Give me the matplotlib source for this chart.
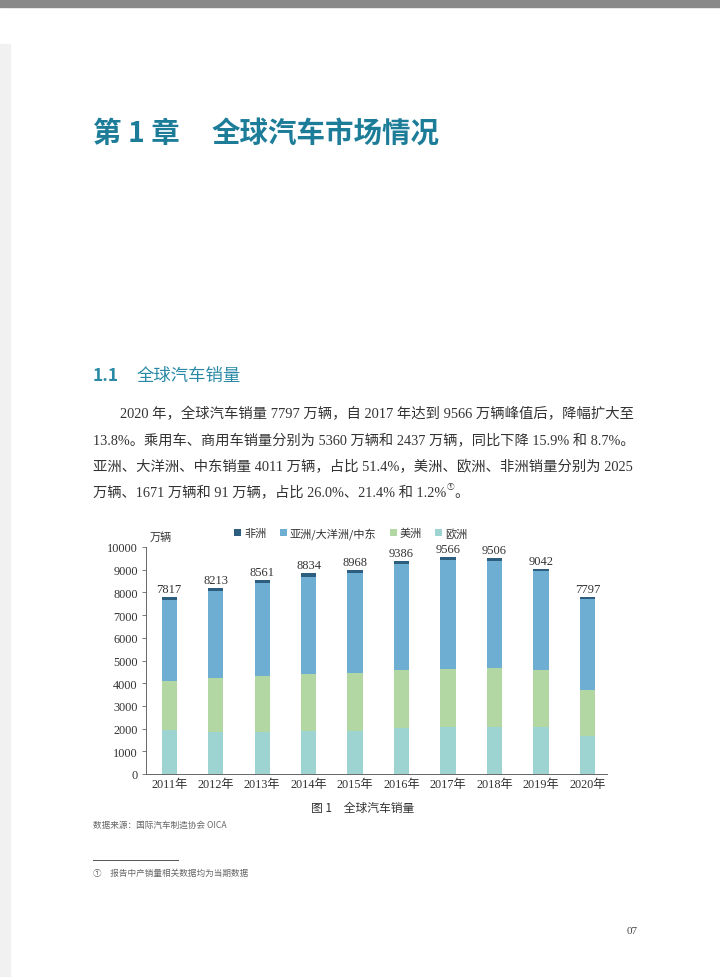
import matplotlib
matplotlib.use('Agg')
import matplotlib.pyplot as plt
import numpy as np

plt.rcParams['font.family'] = ['Noto Sans CJK SC', 'DejaVu Sans']

years = ['2011年', '2012年', '2013年', '2014年', '2015年', '2016年', '2017年', '2018年', '2019年', '2020年']
europe = [1960, 1870, 1830, 1890, 1910, 2010, 2070, 2080, 2080, 1671]
america = [2150, 2340, 2480, 2520, 2550, 2570, 2560, 2570, 2490, 2025]
asia = [3577, 3863, 4101, 4274, 4378, 4686, 4816, 4736, 4362, 4011]
africa = [130, 140, 150, 150, 130, 120, 120, 120, 110, 91]
totals = [7817, 8213, 8561, 8834, 8968, 9386, 9566, 9506, 9042, 7797]

teal = '#1d7d99'
serif = ['Liberation Serif', 'Noto Sans CJK SC']

W, H = 720, 978
fig = plt.figure(figsize=(W / 100, H / 100), dpi=100)
fig.patch.set_facecolor('white')
renderer = fig.canvas.get_renderer()

def fx(px):
    return px / W

def fy(py):
    return 1 - py / H

# page decorations
fig.patches.append(plt.Rectangle((0, fy(8)), 1, 8 / H, transform=fig.transFigure,
                                 color='#898989', zorder=0))
fig.patches.append(plt.Rectangle((0, 0), fx(10), fy(45), transform=fig.transFigure,
                                 color='#f1f1f1', zorder=0))

# headings
fig.text(fx(93), fy(134), '第 1 章', fontsize=20.5, fontweight='bold', color=teal, va='center')
fig.text(fx(212), fy(134), '全球汽车市场情况', fontsize=20.5, fontweight='bold', color=teal, va='center')
fig.text(fx(93), fy(376), '1.1', fontsize=12.5, fontweight='bold', color='#2a8aa6', va='center')
fig.text(fx(137), fy(376), '全球汽车销量', fontsize=12.5, color='#2a8aa6', va='center')

# paragraph, lines 1-3 stretched to the right margin
body = [
    (120, 414, '2020 年，全球汽车销量 7797 万辆，自 2017 年达到 9566 万辆峰值后，降幅扩大至'),
    (93, 441, '13.8%。乘用车、商用车销量分别为 5360 万辆和 2437 万辆，同比下降 15.9% 和 8.7%。'),
    (93, 467, '亚洲、大洋洲、中东销量 4011 万辆，占比 51.4%，美洲、欧洲、非洲销量分别为 2025'),
]
right_edge = 632
sizes = []
for x0, y0, s in body:
    t = fig.text(fx(x0), fy(y0), s, fontsize=10, color='#333333', va='center', family=serif)
    wpx = t.get_window_extent(renderer).width
    fs = 10 * (right_edge - x0) / wpx
    t.set_fontsize(fs)
    sizes.append(fs)
fs4 = sum(sizes) / len(sizes)
t4 = fig.text(fx(93), fy(493), '万辆、1671 万辆和 91 万辆，占比 26.0%、21.4% 和 1.2%',
              fontsize=fs4, color='#333333', va='center', family=serif)
end4 = 93 + t4.get_window_extent(renderer).width
fig.text(fx(end4 + 1), fy(487), '①', fontsize=5.5, color='#333333', va='center')
fig.text(fx(end4 + 8), fy(493), '。', fontsize=fs4, color='#333333', va='center')

# chart
ax = fig.add_axes([fx(146), fy(775), fx(607) - fx(146), fy(548) - fy(775)])
x = np.arange(len(years))
w = 0.33
c_eu, c_am, c_as, c_af = '#9dd4d1', '#b2d7a2', '#6eaed3', '#2d5d7f'
b_eu = ax.bar(x, europe, w, color=c_eu, label='欧洲')
bottom = np.array(europe)
b_am = ax.bar(x, america, w, bottom=bottom, color=c_am, label='美洲')
bottom = bottom + np.array(america)
b_as = ax.bar(x, asia, w, bottom=bottom, color=c_as, label='亚洲/大洋洲/中东')
bottom = bottom + np.array(asia)
b_af = ax.bar(x, africa, w, bottom=bottom, color=c_af, label='非洲')
bottom = bottom + np.array(africa)

for xi, top, t in zip(x, bottom, totals):
    ax.text(xi, top + 90, str(t), ha='center', va='bottom', fontsize=9,
            color='#333333', family=serif)

ax.set_xlim(-0.5, 9.42)
ax.set_ylim(0, 10000)
ax.set_yticks(range(0, 10001, 1000))
ax.set_xticks(x)
ax.set_xticklabels(years)
for lab in ax.get_xticklabels() + ax.get_yticklabels():
    lab.set_family(serif)
    lab.set_fontsize(8.8)
    lab.set_color('#333333')
ax.tick_params(axis='x', length=0, pad=3)
ax.tick_params(axis='y', length=3, width=0.6, color='#666666', pad=3)
for s in ['top', 'right']:
    ax.spines[s].set_visible(False)
for s in ['left', 'bottom']:
    ax.spines[s].set_color('#666666')
    ax.spines[s].set_linewidth(0.7)

fig.text(fx(150), fy(538), '万辆', fontsize=8, color='#333333', va='center')
leg = fig.legend([b_af, b_as, b_am, b_eu], ['非洲', '亚洲/大洋洲/中东', '美洲', '欧洲'],
                 loc='center', bbox_to_anchor=(fx(351), fy(534)), ncol=4, frameon=False,
                 fontsize=8, handlelength=0.6, handleheight=0.6, handletextpad=0.3,
                 columnspacing=1.2)
for t in leg.get_texts():
    t.set_color('#333333')

# captions and footnotes
fig.text(fx(363), fy(808), '图 1　全球汽车销量', fontsize=8.5, color='#333333',
         ha='center', va='center')
fig.text(fx(93), fy(825), '数据来源：国际汽车制造协会 OICA', fontsize=6.2, color='#666666', va='center')
fig.lines.append(plt.Line2D([fx(93), fx(178)], [fy(861), fy(861)], transform=fig.transFigure,
                            color='#555555', linewidth=0.7))
fig.text(fx(93), fy(873), '①　报告中产销量相关数据均为当期数据', fontsize=6.2, color='#666666', va='center')
fig.text(fx(627), fy(932), '07', fontsize=8, color='#444444', va='center', family=serif)

fig.savefig('out.png', dpi=100, facecolor='white')
